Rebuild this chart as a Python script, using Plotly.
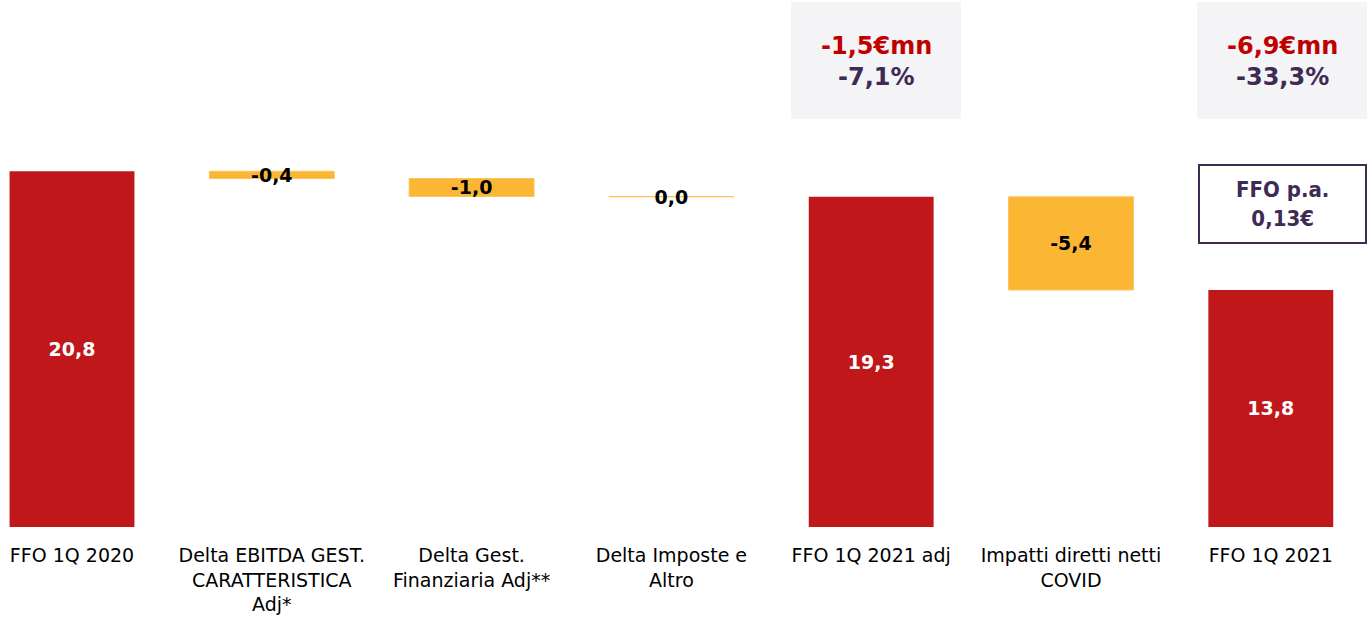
import plotly.graph_objects as go

categories = ["FFO 1Q 2020", "Delta EBITDA GEST.<br>CARATTERISTICA<br>Adj*", "Delta Gest.<br>Finanziaria Adj**",
              "Delta Imposte e<br>Altro", "FFO 1Q 2021 adj", "Impatti diretti netti<br>COVID", "FFO 1Q 2021"]
measures = ["absolute", "relative", "relative", "relative", "total", "relative", "total"]
values = [20.8, -0.42, -1.05, -0.02, 0, -5.45, 0]
labels = ["20,8", "-0,4", "-1,0", "0,0", "19,3", "-5,4", "13,8"]
label_colors = ["white", "black", "black", "black", "white", "black", "white"]

RED = "#C0171A"
YELLOW = "#FBB733"
PURPLE = "#3F2A56"
TEXT_RED = "#C00000"

x = list(range(len(categories)))

fig = go.Figure(go.Waterfall(
    x=x, measure=measures, y=values,
    text=["<b>" + t + "</b>" for t in labels], textposition="inside", insidetextanchor="middle",
    textangle=0, constraintext="none",
    insidetextfont=dict(family="DejaVu Sans", size=19, color=label_colors),
    textfont=dict(family="DejaVu Sans", size=19, color=label_colors),
    width=0.625,
    connector=dict(visible=False),
    increasing=dict(marker=dict(color=RED)),
    decreasing=dict(marker=dict(color=YELLOW, line=dict(color="#FCC35A", width=1))),
    totals=dict(marker=dict(color=RED)),
    hoverinfo="skip",
))

H = 527.0
PX_UNIT = 17.1
XU = 199.8
X0 = 72.0

def xd(px):
    return (px - X0) / XU

def yd(py):
    return (H - py) / PX_UNIT

shapes = []
annotations = []
# grey boxes with changes
for (l, r, t1, t2) in [(791, 961, "-1,5€mn", "-7,1%"), (1197, 1367, "-6,9€mn", "-33,3%")]:
    shapes.append(dict(type="rect", xref="x", yref="y", x0=xd(l), x1=xd(r), y0=yd(119), y1=yd(2),
                       fillcolor="#F4F4F7", line=dict(width=0), layer="below"))
    cx = xd((l + r) / 2)
    annotations.append(dict(x=cx, y=yd(46), xref="x", yref="y", text="<b>" + t1 + "</b>", showarrow=False,
                            font=dict(family="DejaVu Sans", size=24, color=TEXT_RED)))
    annotations.append(dict(x=cx, y=yd(77), xref="x", yref="y", text="<b>" + t2 + "</b>", showarrow=False,
                            font=dict(family="DejaVu Sans", size=24, color=PURPLE)))

# FFO p.a. box
shapes.append(dict(type="rect", xref="x", yref="y", x0=xd(1199), x1=xd(1366), y0=yd(243), y1=yd(165),
                   fillcolor="white", line=dict(color=PURPLE, width=2)))
annotations.append(dict(x=xd(1282), y=yd(204), xref="x", yref="y", text="<b>FFO p.a.<br>0,13€</b>",
                        showarrow=False, font=dict(family="DejaVu Sans Condensed", size=22, color=PURPLE)))

fig.update_layout(
    width=1367, height=620,
    margin=dict(l=0, r=0, t=0, b=620 - int(H)),
    plot_bgcolor="white", paper_bgcolor="white",
    showlegend=False,
    shapes=shapes, annotations=annotations,
    xaxis=dict(range=[xd(0), xd(1367)], tickmode="array", tickvals=x, ticktext=categories,
               showgrid=False, zeroline=False, showline=False, ticks="", ticklabelstandoff=15,
               tickfont=dict(family="DejaVu Sans", size=19, color="black"), fixedrange=True),
    yaxis=dict(range=[0, H / PX_UNIT], visible=False, showgrid=False, zeroline=False, fixedrange=True),
)

fig.write_html("out.html", config={"displayModeBar": False},
               post_script="document.body.style.margin='0';document.body.style.overflow='hidden';")
